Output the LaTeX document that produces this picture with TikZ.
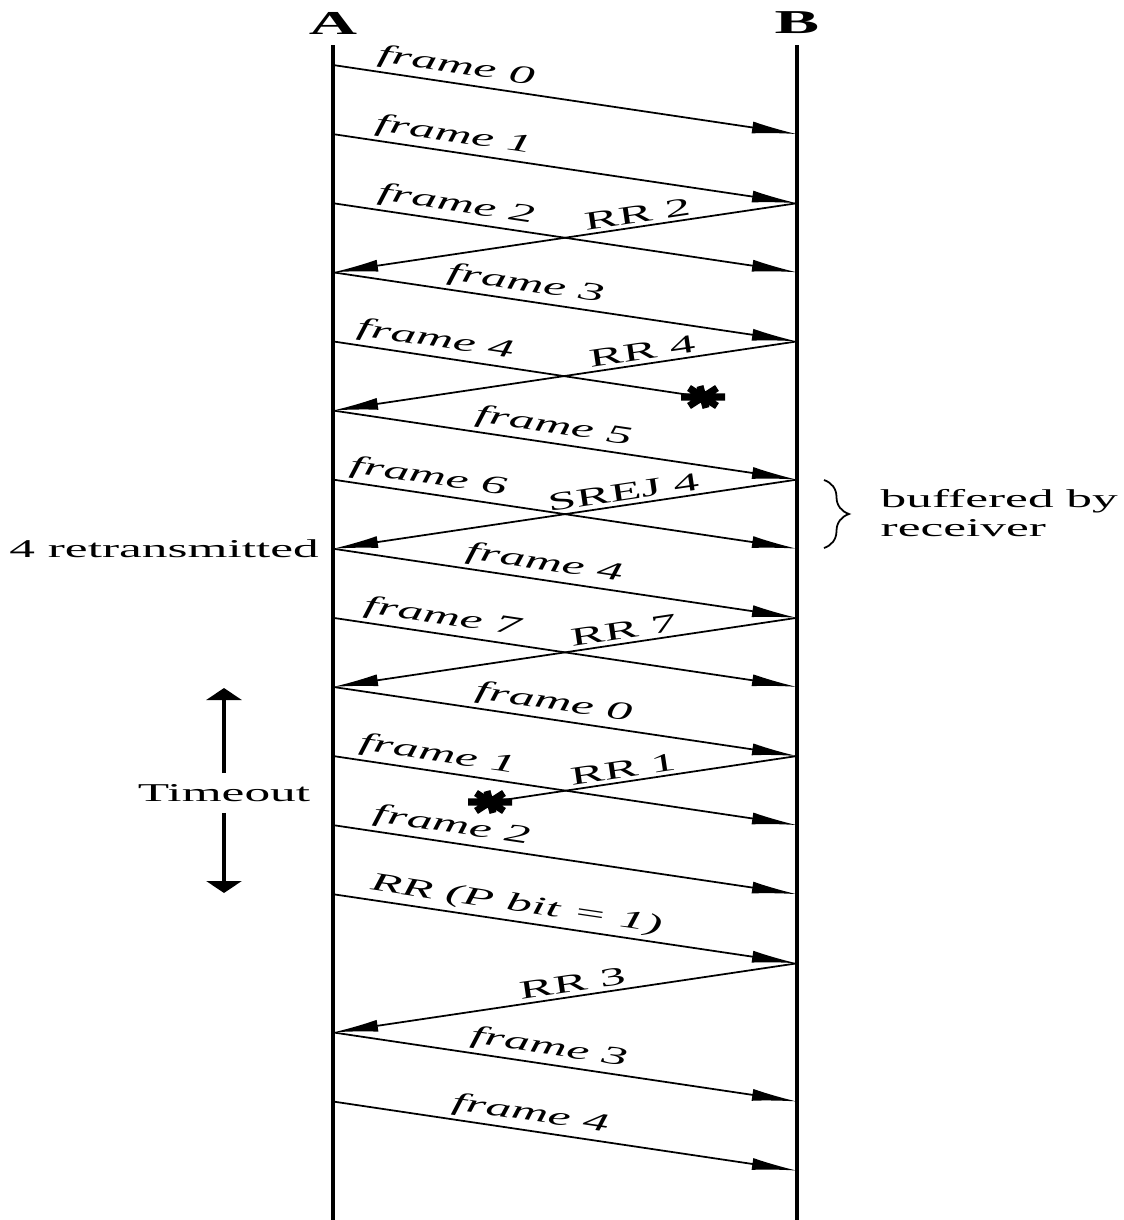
\documentclass[tikz,border=0pt]{standalone}
\usepackage{fontspec}
\setmainfont[FakeStretch=2]{Liberation Serif}
\usepackage{tikz}
\usetikzlibrary{positioning, arrows.meta, decorations.pathreplacing}

\begin{document}
\fontsize{7.3}{8.4}\selectfont
\begin{tikzpicture}[
    x=0.01cm, y=-0.01cm,
    life/.style={line width=1.15pt},
    msg/.style={-{Latex[length=0.45cm, width=0.12cm]}, line width=0.5pt},
    lostmsg/.style={line width=0.5pt},
    lbl/.style={sloped, above, inner sep=1pt, font=\itshape},
    ack/.style={sloped, above, inner sep=1pt},
    head/.style={font=\fontsize{9.5}{10}\selectfont\bfseries, inner sep=0pt},
    note/.style={inner sep=3pt},
    tarr/.style={-{Triangle[length=0.12cm, width=0.35cm]}, line width=1pt},
    brc/.style={decorate, decoration={brace, amplitude=0.25cm}, line width=0.5pt},
    lost/.pic={\draw[line width=2pt] (-22,0) -- (22,0) (-14,-9) -- (14,9) (-14,9) -- (14,-9) (-3,-11) -- (3,11);},
]
    \useasboundingbox (0,0) rectangle (1123,1220);

    % stations
    \node[head] (hA) at (333,23) {A};
    \node[head] (hB) at (797,23) {B};
    \coordinate (atop) at (333,45);
    \coordinate (abot) at (333,1220);
    \coordinate (btop) at (797,45);
    \coordinate (bbot) at (797,1220);
    \draw[life] (atop) -- (abot);
    \draw[life] (btop) -- (bbot);

    \foreach \k in {0,...,16} {
        \coordinate (a\k) at (333,65+69.1*\k);
        \coordinate (b\k) at (797,65+69.1*\k);
    }

    % lost frames
    \coordinate (x4) at (703,397);
    \coordinate (x10) at (490,802);
    \pic at (x4) {lost};
    \pic at (x10) {lost};

    % A -> B and B -> A
    \draw[msg] (a0) -- (b1) node[lbl, pos=.26] {frame 0};
    \draw[msg] (a1) -- (b2) node[lbl, pos=.255] {frame 1};
    \draw[msg] (a2) -- (b3) node[lbl, pos=.26] {frame 2};
    \draw[msg] (b2) -- (a3) node[ack, pos=.34] {RR 2};
    \draw[msg] (a3) -- (b4) node[lbl, pos=.41] {frame 3};
    \draw[lostmsg] (a4) -- (x4) node[lbl, pos=.27] {frame 4};
    \draw[msg] (b4) -- (a5) node[ack, pos=.33] {RR 4};
    \draw[msg] (a5) -- (b6) node[lbl, pos=.47] {frame 5};
    \draw[msg] (a6) -- (b7) node[lbl, pos=.2] {frame 6};
    \draw[msg] (b6) -- (a7) node[ack, pos=.37] {SREJ 4};
    \draw[msg] (a7) -- (b8) node[lbl, pos=.45] {frame 4};
    \draw[msg] (a8) -- (b9) node[lbl, pos=.23] {frame 7};
    \draw[msg] (b8) -- (a9) node[ack, pos=.37] {RR 7};
    \draw[msg] (a9) -- (b10) node[lbl, pos=.47] {frame 0};
    \draw[msg] (a10) -- (b11) node[lbl, pos=.22] {frame 1};
    \draw[lostmsg] (b10) -- (x10) node[ack, pos=.56] {RR 1};
    \draw[msg] (a11) -- (b12) node[lbl, pos=.25] {frame 2};
    \draw[msg] (a12) -- (b13) node[lbl, pos=.39] {RR (P bit = 1)};
    \draw[msg] (b13) -- (a14) node[ack, pos=.48] {RR 3};
    \draw[msg] (a14) -- (b15) node[lbl, pos=.46] {frame 3};
    \draw[msg] (a15) -- (b16) node[lbl, pos=.42] {frame 4};

    % notes
    \node[note, left=0.03cm of a7] (retx) {4 retransmitted};

    \coordinate (br1) at (824,480);
    \coordinate (br2) at (824,548);
    \draw[brc] (br1) -- (br2);
    \node[note, anchor=west, align=left, inner sep=0pt] (buf) at (880,513) {buffered by\\receiver};

    \node[note] (tmo) at (224,793) {Timeout};
    \coordinate (tup) at (224,688);
    \coordinate (tdn) at (224,893);
    \draw[tarr] (tmo) -- (tup);
    \draw[tarr] (tmo) -- (tdn);
\end{tikzpicture}
\end{document}
